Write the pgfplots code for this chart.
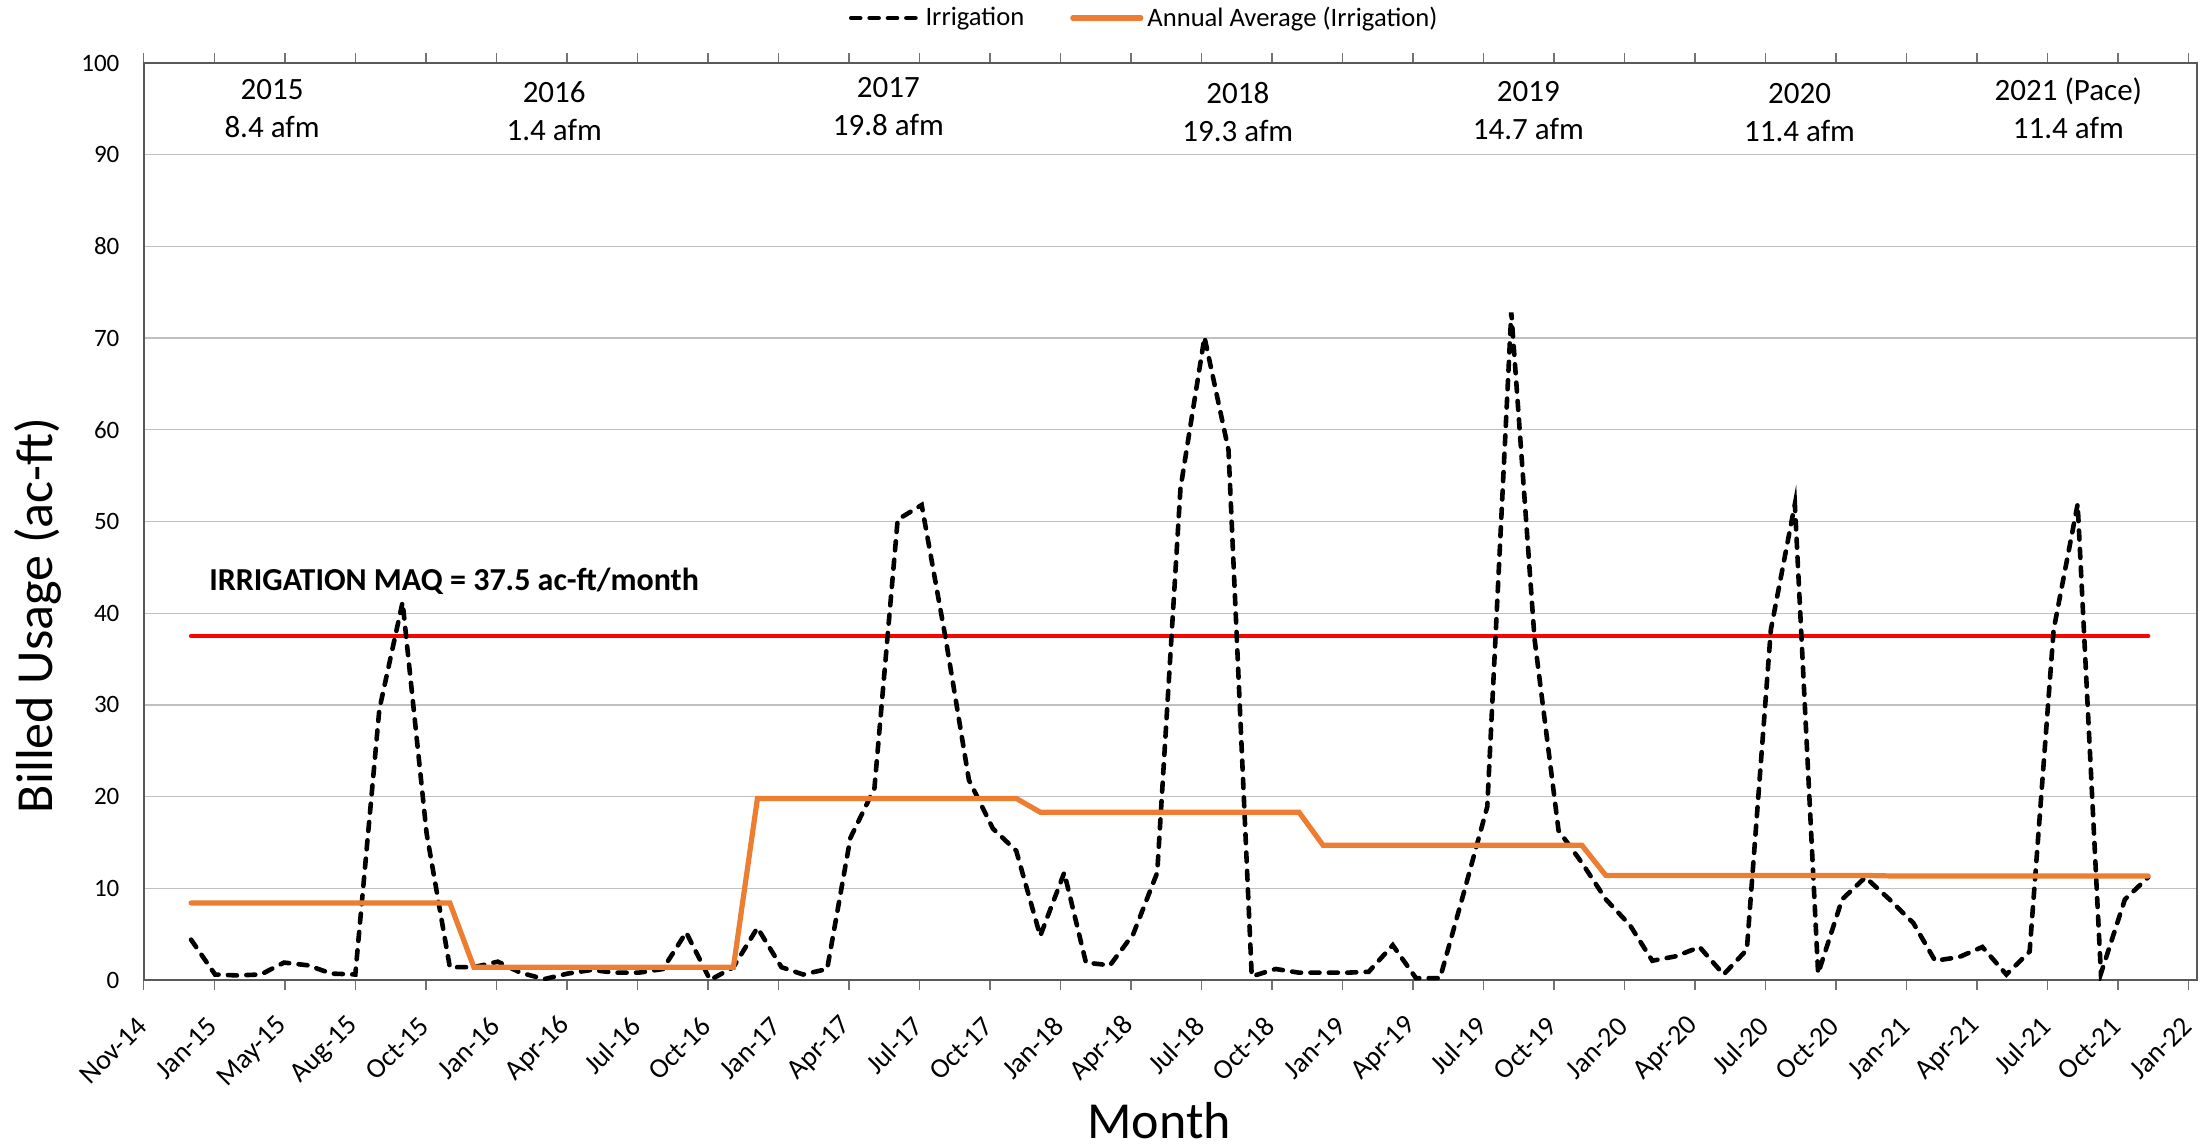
\documentclass[border=0pt]{standalone}
\usepackage{fontspec}
\setmainfont{Carlito}
\usepackage{pgfplots}
\pgfplotsset{compat=1.18}
\definecolor{xlorange}{HTML}{ED7D31}
\definecolor{gridgray}{HTML}{C0C0C0}

\pgfplotstableread{
day val
61 4.4
92 0.6
120 0.5
151 0.6
181 1.9
212 1.6
242 0.7
273 0.6
304 29.5
334 41.2
365 16.0
395 1.4
426 1.4
457 2.0
486 0.8
517 0.1
547 0.7
578 1.1
608 0.8
639 0.8
670 1.2
700 5.2
731 0.0
761 1.4
792 5.7
823 1.4
851 0.6
882 1.2
912 15.5
943 20.9
973 50.2
1004 51.8
1035 37.2
1065 21.8
1096 16.5
1126 14.1
1157 4.8
1188 11.7
1216 1.9
1247 1.6
1277 5.0
1308 11.7
1338 53.6
1369 70.1
1400 57.8
1430 0.4
1461 1.2
1491 0.8
1522 0.8
1553 0.8
1581 0.9
1612 3.8
1642 0.2
1673 0.2
1703 9.3
1734 18.9
1765 72.8
1795 37.2
1826 16.3
1856 12.8
1887 8.8
1918 6.0
1947 2.1
1978 2.6
2008 3.6
2039 0.6
2069 3.3
2100 38.2
2131 51.9
2161 0.7
2192 8.8
2222 11.2
2253 8.8
2284 6.2
2312 2.1
2343 2.5
2373 3.6
2404 0.6
2434 3.1
2465 38.2
2496 51.9
2526 0.7
2557 8.8
2587 11.2
}\irrigation

\pgfplotstableread{
day val
61 8.4
395 8.4
426 1.4
761 1.4
792 19.8
1126 19.8
1157 18.3
1491 18.3
1522 14.7
1856 14.7
1887 11.4
2222 11.4
2253 11.35
2587 11.35
}\annualavg

\begin{document}
\begin{tikzpicture}
\begin{axis}[
  scale only axis,
  width=1026.6pt, height=458.5pt,
  xmin=0, xmax=2650, ymin=0, ymax=100,
  xtick={0,91,182,273,364,455,546,637,728,819,910,1001,1092,1183,1274,1365,1456,1547,1638,1729,1820,1911,2002,2093,2184,2275,2366,2457,2548,2639},
  xticklabels={Nov-14,Jan-15,May-15,Aug-15,Oct-15,Jan-16,Apr-16,Jul-16,Oct-16,Jan-17,Apr-17,Jul-17,Oct-17,Jan-18,Apr-18,Jul-18,Oct-18,Jan-19,Apr-19,Jul-19,Oct-19,Jan-20,Apr-20,Jul-20,Oct-20,Jan-21,Apr-21,Jul-21,Oct-21,Jan-22},
  ytick={0,10,...,100},
  ymajorgrids,
  grid style={gridgray, line width=0.7pt},
  tick align=outside,
  major tick length=5pt,
  xtick style={black!55, line width=0.7pt},
  ytick style={draw=none},
  axis line style={black!65, line width=0.9pt},
  /pgf/number format/assume math mode=true,
  yticklabel style={font=\fontsize{12.5}{15}\selectfont, inner sep=1pt},
  yticklabel shift=6pt,
  xticklabel style={font=\fontsize{14}{16}\selectfont, rotate=45, anchor=east, inner sep=1pt},
  xticklabel shift=15pt,
  xlabel={Month},
  ylabel={Billed Usage (ac-ft)},
  xlabel style={font=\fontsize{26}{30}\selectfont, inner sep=0pt, at={(axis description cs:0.4945,-0.1535)}, anchor=center},
  ylabel style={font=\fontsize{26}{30}\selectfont, inner sep=0pt, at={(axis description cs:-0.0515,0.3975)}, anchor=center},
  legend columns=2,
  legend style={draw=none, fill=none, at={(axis description cs:0.4877,1.049)}, anchor=center,
    font=\fontsize{13.3}{15}\selectfont,
    /tikz/every even column/.append style={column sep=21pt}},
  legend image code/.code={\draw[#1] (0pt,0pt) -- (34pt,0pt);},
]
\addplot[red, line width=2.2pt, line cap=round, forget plot] coordinates {(61,37.5) (2587,37.5)};
\addplot[black, line width=2.3pt, line cap=round, dash pattern=on 4.5pt off 4.7pt, mark=none] table[x=day,y=val] {\irrigation};
\addlegendentry{Irrigation}
\addplot[xlorange, line width=2.6pt, mark=none, line cap=round] table[x=day,y=val] {\annualavg};
\addlegendentry{Annual Average (Irrigation)}

\node[font=\fontsize{15.5}{19}\selectfont, align=center] at (axis cs:165.6,95.0) {2015\\8.4 afm};
\node[font=\fontsize{15.5}{19}\selectfont, align=center] at (axis cs:529.7,94.7) {2016\\1.4 afm};
\node[font=\fontsize{15.5}{19}\selectfont, align=center] at (axis cs:961,95.2) {2017\\19.8 afm};
\node[font=\fontsize{15.5}{19}\selectfont, align=center] at (axis cs:1412,94.7) {2018\\19.3 afm};
\node[font=\fontsize{15.5}{19}\selectfont, align=center] at (axis cs:1787,94.8) {2019\\14.7 afm};
\node[font=\fontsize{15.5}{19}\selectfont, align=center] at (axis cs:2137,94.6) {2020\\11.4 afm};
\node[font=\fontsize{15.5}{19}\selectfont, align=center] at (axis cs:2484,95.1) {2021 (Pace)\\11.4 afm};
\node[font=\bfseries\fontsize{16}{19}\selectfont, anchor=west, inner sep=0pt] at (axis cs:84,43.5) {IRRIGATION MAQ = 37.5 ac-ft/month};
\end{axis}
\pgfresetboundingbox
\useasboundingbox (-71.9pt,-83pt) rectangle (1033.6pt,490pt);
\end{tikzpicture}
\end{document}
